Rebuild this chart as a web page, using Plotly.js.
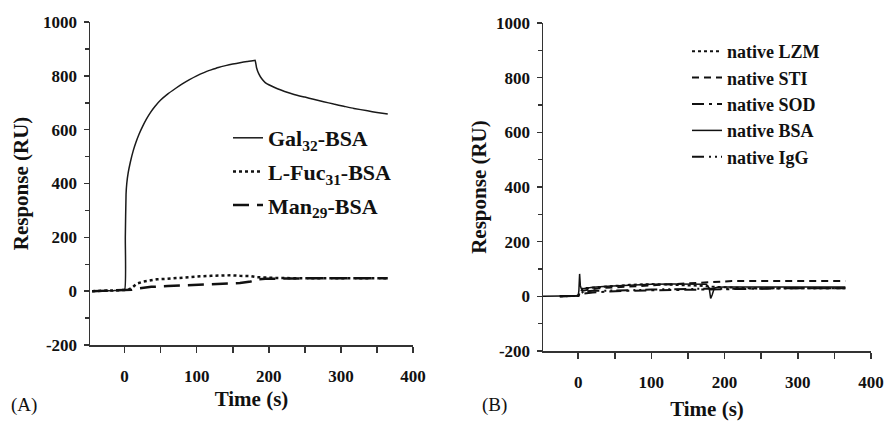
<!DOCTYPE html>
<html>
<head>
<meta charset="utf-8">
<script src="https://cdn.plot.ly/plotly-3.0.1.min.js"></script>
<style>html,body{margin:0;padding:0;background:#fff}#chart{width:884px;height:421px}</style>
</head>
<body>
<div id="chart"></div>
<script>
// Panel A: neoglycoproteins
const galT = [-45,-30,-15,-5,0,1,2,3,5,8,12,16,20,25,30,36,42,50,60,70,80,90,100,110,120,130,140,150,160,170,180,181,183,186,190,195,203,212,222,235,250,262,276,290,304,318,337,350,365];
const galV = [0,1,2,3,5,200,360,400,440,480,522,555,583,612,638,664,686,710,733,752,770,786,800,812,822,831,838,844,849,853,857,858,830,808,790,775,763,752,742,731,721,713,704,695,687,679,670,664,658];
const fucT = [-45,-30,-15,0,5,10,17,25,35,45,59,75,90,105,120,135,147,160,175,184,195,210,240,270,300,330,365];
const fucV = [0,1,2,3,5,12,28,35,40,44,46,50,53,55,57,58,59,57,56,52,50,49,48,48,48,48,48];
const manT = [-45,-30,-15,0,10,20,37,60,83,100,120,140,160,175,184,195,210,230,260,300,330,365];
const manV = [0,1,2,3,5,10,16,19,22,24,26,28,30,36,44,46,47,48,48,48,48,48];

// Panel B: native proteins
const lzmT = [-25,-10,0,3,6,10,20,35,50,70,100,130,150,170,185,200,230,260,300,330,365];
const lzmV = [0,0,2,15,28,30,32,36,40,42,45,43,40,38,35,33,30,30,30,30,30];
const stiT = [-25,0,3,6,15,30,50,75,100,130,160,180,190,210,250,300,365];
const stiV = [0,2,10,20,25,30,33,37,40,44,48,52,55,56,56,56,56];
const sodT = [-25,0,3,8,20,40,60,100,140,180,200,250,300,365];
const sodV = [0,2,5,10,14,18,20,22,24,26,28,28,30,30];
const bsaT = [-50,-20,-5,0,1,2,3,4,6,10,20,40,60,80,100,130,160,175,179,181,183,186,190,200,250,300,365];
const bsaV = [0,0,0,2,20,82,40,30,28,30,33,37,40,42,44,45,45,44,30,-8,5,30,33,34,34,34,34];
const iggT = [-25,0,3,8,20,40,70,100,140,180,220,260,300,365];
const iggV = [0,2,10,18,20,20,22,25,27,28,28,30,30,30];

const namesA = ['Gal<sub>32</sub>-BSA','L-Fuc<sub>31</sub>-BSA','Man<sub>29</sub>-BSA'];
const namesB = ['native LZM','native STI','native SOD','native BSA','native IgG'];
const xTickVals = [0,100,200,300,400];
const yTickVals = [-200,0,200,400,600,800,1000];

const FONT = 'Liberation Serif, Times New Roman, serif';

const traces = [
  {x: galT, y: galV, name: namesA[0], legendgroup:'a1', line:{color:'#1a1a1a', width:1.5, dash:'solid', shape:'spline', smoothing:0.5}},
  {x: fucT, y: fucV, name: namesA[1], legendgroup:'a2', line:{color:'#111', width:2.5, dash:'dot'}},
  {x: manT, y: manV, name: namesA[2], legendgroup:'a3', line:{color:'#111', width:2.5, dash:'16px,8px'}},
  {x: lzmT, y: lzmV, name: namesB[0], xaxis:'x2', yaxis:'y2', legend:'legend2', line:{color:'#111', width:2, dash:'dot'}},
  {x: stiT, y: stiV, name: namesB[1], xaxis:'x2', yaxis:'y2', legend:'legend2', line:{color:'#111', width:2, dash:'7px,5px'}},
  {x: sodT, y: sodV, name: namesB[2], xaxis:'x2', yaxis:'y2', legend:'legend2', line:{color:'#111', width:2, dash:'12px,5px,3px,5px'}},
  {x: bsaT, y: bsaV, name: namesB[3], xaxis:'x2', yaxis:'y2', legend:'legend2', line:{color:'#111', width:1.5, dash:'solid'}},
  {x: iggT, y: iggV, name: namesB[4], xaxis:'x2', yaxis:'y2', legend:'legend2', line:{color:'#111', width:2, dash:'12px,5px,2px,4px,2px,4px'}}
].map(t => Object.assign({type:'scatter', mode:'lines'}, t));

function xax(domain, anchor, standoff){
  return {
    domain: domain, anchor: anchor, range: [-48, 400],
    tickvals: xTickVals, ticktext: xTickVals.map(v => '<b>' + v + '</b>'),
    ticks: 'outside', ticklen: 6, tickwidth: 1.5, tickcolor: '#333',
    minor: {dtick: 50, tick0: 0, ticks: 'outside', ticklen: 6, tickwidth: 1.5, tickcolor:'#333'},
    showline: true, linecolor: '#333', linewidth: 1.5,
    showgrid: false, zeroline: false, ticklabelstandoff: 9,
    tickfont: {family: FONT, size: 17, color: '#111'},
    title: {text: '<b>Time (s)</b>', standoff: standoff, font: {family: FONT, size: 21, color: '#111'}}
  };
}
function yax(domain, anchor, standoff){
  return {
    domain: domain, anchor: anchor, range: [-200, 1000],
    tickvals: yTickVals, ticktext: yTickVals.map(v => '<b>' + v + '</b>'),
    ticks: 'outside', ticklen: 5, tickwidth: 1.5, tickcolor: '#333',
    minor: {dtick: 100, tick0: 0, ticks: 'outside', ticklen: 4, tickwidth: 1.5, tickcolor:'#333'},
    showline: true, linecolor: '#333', linewidth: 1.5,
    showgrid: false, zeroline: false, ticklabelstandoff: 3,
    tickfont: {family: FONT, size: 17, color: '#111'},
    title: {text: '<b>Response (RU)</b>', standoff: standoff, font: {family: FONT, size: 21, color: '#111'}}
  };
}

const layout = {
  width: 884, height: 421,
  margin: {l: 0, r: 0, t: 0, b: 0},
  paper_bgcolor: '#fff', plot_bgcolor: '#fff',
  showlegend: true,
  xaxis: xax([90/884, 413/884], 'y', 6),
  yaxis: yax([(421-345)/421, (421-22)/421], 'x', 8),
  xaxis2: xax([543/884, 871/884], 'y2', 20),
  yaxis2: yax([(421-351)/421, (421-23)/421], 'x2', 3),
  legend: {
    x: 228/884, y: 1 - 117/421, xanchor: 'left', yanchor: 'top',
    bgcolor: 'rgba(0,0,0,0)', tracegroupgap: 2, itemwidth: 30,
    font: {family: FONT, size: 22, color: '#111', weight: 'bold'}
  },
  legend2: {
    x: 687/884, y: 1 - 33/421, xanchor: 'left', yanchor: 'top',
    bgcolor: 'rgba(0,0,0,0)', itemwidth: 30,
    font: {family: FONT, size: 18, color: '#111', weight: 'bold'}
  },
  annotations: [
    {text: '(A)', xref: 'paper', yref: 'paper', x: 9/884, y: 1 - 405/421, xanchor: 'left', yanchor: 'middle', showarrow: false, font: {family: FONT, size: 19, color: '#111'}},
    {text: '(B)', xref: 'paper', yref: 'paper', x: 480/884, y: 1 - 405/421, xanchor: 'left', yanchor: 'middle', showarrow: false, font: {family: FONT, size: 19, color: '#111'}}
  ]
};

Plotly.newPlot('chart', traces, layout, {displayModeBar: false, staticPlot: true});
</script>
</body>
</html>
